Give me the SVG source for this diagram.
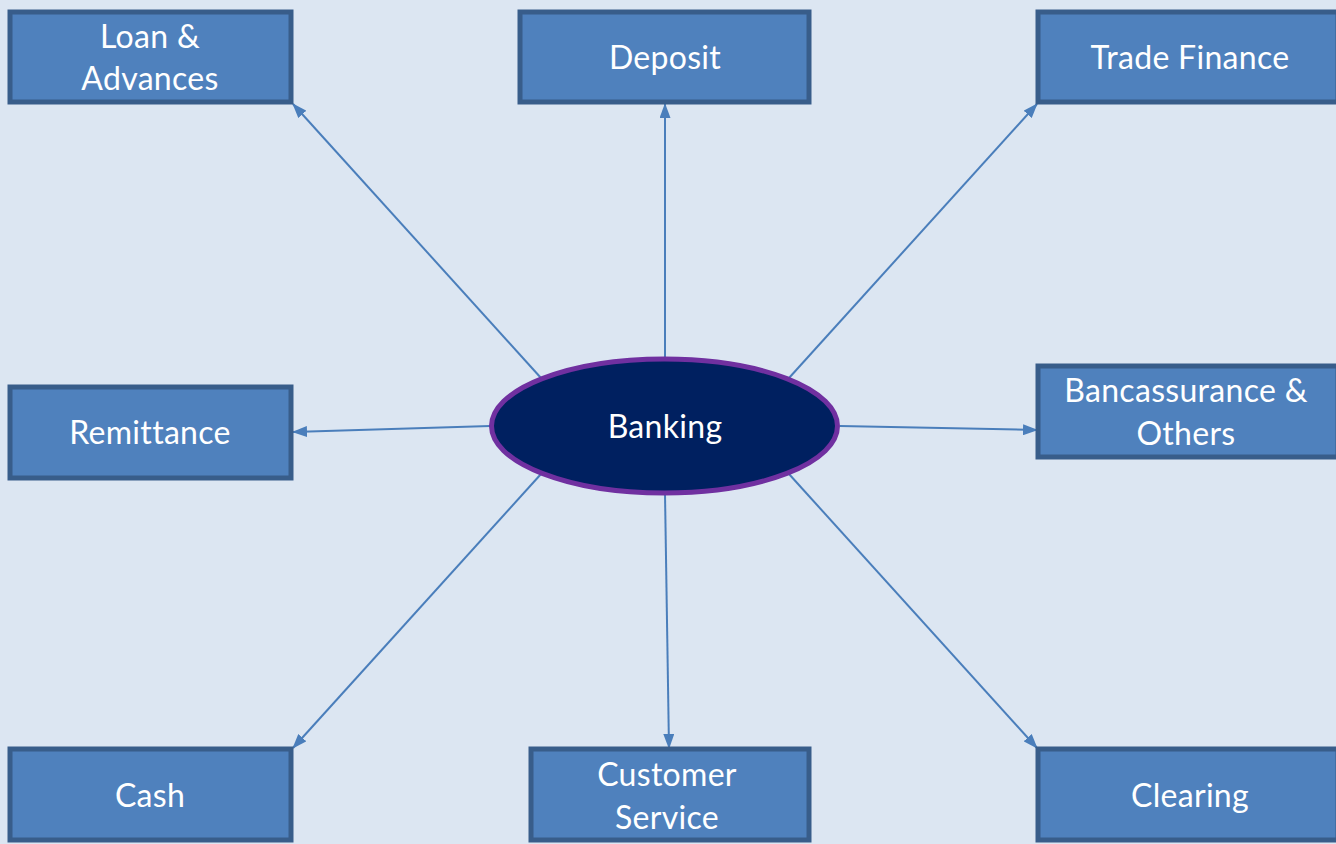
<svg xmlns="http://www.w3.org/2000/svg" width="1336" height="844" viewBox="0 0 1336 844">
  <style>
    .box { fill: #4F81BD; stroke: #385D8A; stroke-width: 5; }
    .lbl { font-family: Lato, "Open Sans", "Liberation Sans", sans-serif; font-size: 32px; fill: #FFFFFF; text-anchor: middle; letter-spacing: 0.3px; }
    .link { stroke: #4A7EBB; stroke-width: 2; fill: none; marker-end: url(#arrow); }
  </style>
  <defs>
    <marker id="arrow" viewBox="0 0 15 11" refX="14" refY="5.5" markerWidth="15" markerHeight="11" orient="auto" markerUnits="userSpaceOnUse">
      <path d="M0,0 L15,5.5 L0,11 Z" fill="#4A7EBB"/>
    </marker>
  </defs>
  <rect width="1336" height="844" fill="#DCE6F2"/>

  <g id="connectors">
    <line class="link" x1="541" y1="378" x2="293" y2="104"/>
    <line class="link" x1="665" y1="358" x2="665" y2="104"/>
    <line class="link" x1="789" y1="378" x2="1037" y2="104"/>
    <line class="link" x1="490" y1="426" x2="293" y2="432"/>
    <line class="link" x1="840" y1="426" x2="1037" y2="430"/>
    <line class="link" x1="541" y1="474" x2="293" y2="748"/>
    <line class="link" x1="665" y1="494" x2="669" y2="748"/>
    <line class="link" x1="789" y1="474" x2="1037" y2="748"/>
  </g>

  <g id="banking">
    <ellipse cx="664.5" cy="426" rx="173" ry="67" fill="#002060" stroke="#7030A0" stroke-width="5"/>
    <text class="lbl" x="665" y="438">Banking</text>
  </g>

  <g id="loan">
    <rect class="box" x="10" y="12" width="281" height="90"/>
    <text class="lbl" x="150" y="48">Loan &amp;</text>
    <text class="lbl" x="150" y="90">Advances</text>
  </g>

  <g id="deposit">
    <rect class="box" x="520" y="12" width="289" height="90"/>
    <text class="lbl" x="665" y="69">Deposit</text>
  </g>

  <g id="trade-finance">
    <rect class="box" x="1038" y="12" width="300" height="90"/>
    <text class="lbl" x="1190" y="69">Trade Finance</text>
  </g>

  <g id="remittance">
    <rect class="box" x="10" y="387" width="281" height="91"/>
    <text class="lbl" x="150" y="444">Remittance</text>
  </g>

  <g id="bancassurance">
    <rect class="box" x="1038" y="366" width="300" height="91"/>
    <text class="lbl" x="1186" y="402">Bancassurance &amp;</text>
    <text class="lbl" x="1186" y="445">Others</text>
  </g>

  <g id="cash">
    <rect class="box" x="10" y="749" width="281" height="91"/>
    <text class="lbl" x="150" y="807">Cash</text>
  </g>

  <g id="customer-service">
    <rect class="box" x="531" y="749" width="278" height="91"/>
    <text class="lbl" x="667" y="786">Customer</text>
    <text class="lbl" x="667" y="829">Service</text>
  </g>

  <g id="clearing">
    <rect class="box" x="1038" y="749" width="300" height="91"/>
    <text class="lbl" x="1190" y="807">Clearing</text>
  </g>
</svg>
